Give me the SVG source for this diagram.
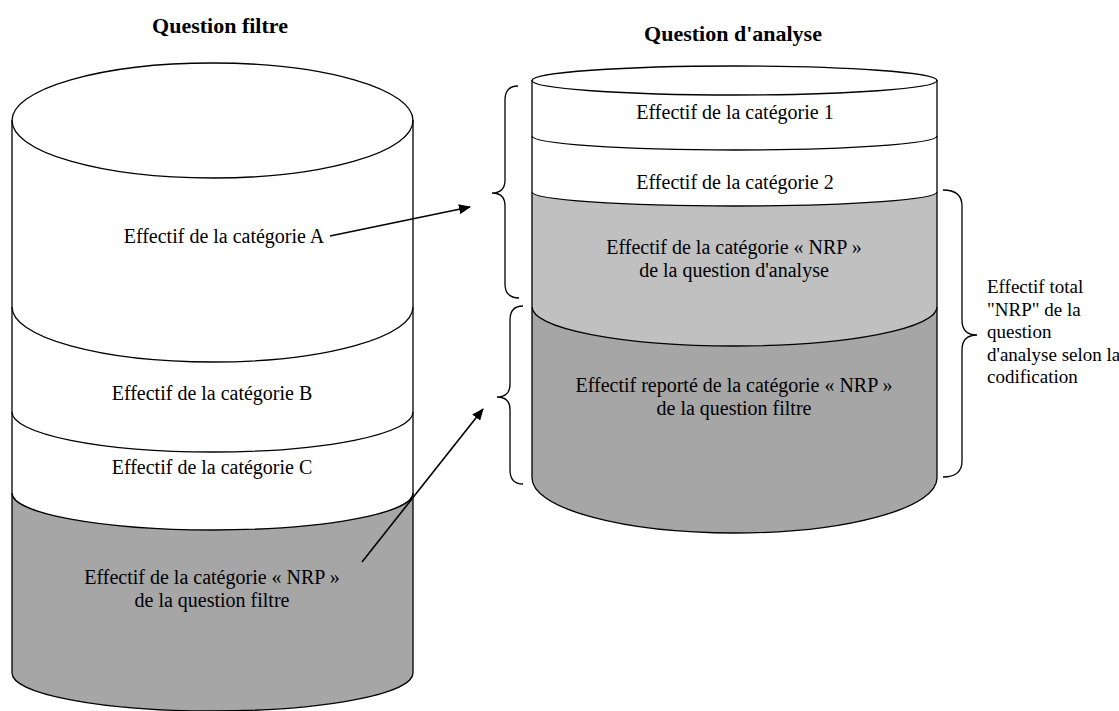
<svg xmlns="http://www.w3.org/2000/svg" width="1119" height="711" viewBox="0 0 1119 711">
  <defs>
    <style>
      .ln { fill: none; stroke: #000; stroke-width: 1.3; }
      .wh { fill: #fff; stroke: none; }
      .g1 { fill: #c0c0c0; stroke: none; }
      .g2 { fill: #a6a6a6; stroke: none; }
      .t { font-family: "Liberation Serif", "Times New Roman", serif; font-size: 20px; fill: #000; text-anchor: middle; }
      .tl { font-family: "Liberation Serif", "Times New Roman", serif; font-size: 19px; fill: #000; }
      .h { font-family: "Liberation Serif", "Times New Roman", serif; font-size: 22px; font-weight: bold; fill: #000; text-anchor: middle; }
      .ar { fill: none; stroke: #000; stroke-width: 1.6; }
    </style>
    <marker id="head" viewBox="0 0 12 10" refX="11" refY="5" markerWidth="12" markerHeight="10" markerUnits="userSpaceOnUse" orient="auto">
      <path d="M0,0 L12,5 L0,10 Z" fill="#000"/>
    </marker>
  </defs>

  <rect width="1119" height="711" fill="#fff"/>

  <!-- headings -->
  <text class="h" x="220" y="33">Question filtre</text>
  <text class="h" x="733" y="41">Question d'analyse</text>

  <!-- left cylinder: question filtre -->
  <g id="filtre">
    <g id="filtre-nrp">
      <path class="g2" d="M12,493 A200.5,37 0 0,0 413,493 L413,673 A200.5,38 0 0,1 12,673 Z"/>
      <path class="ln" d="M12,493 A200.5,37 0 0,0 413,493"/>
      <path class="ln" d="M12,673 A200.5,38 0 0,0 413,673"/>
      <text class="t" x="212" y="584">Effectif de la catégorie « NRP »</text>
      <text class="t" x="212" y="607">de la question filtre</text>
    </g>
    <g id="filtre-c">
      <path class="ln" d="M12,412 A200.5,40 0 0,0 413,412"/>
      <text class="t" x="212" y="474">Effectif de la catégorie C</text>
    </g>
    <g id="filtre-b">
      <path class="ln" d="M12,307 A200.5,55 0 0,0 413,307"/>
      <text class="t" x="212" y="400">Effectif de la catégorie B</text>
    </g>
    <g id="filtre-a">
      <ellipse class="ln" cx="212.5" cy="120.5" rx="200.5" ry="57.5"/>
      <text class="t" x="224" y="243">Effectif de la catégorie A</text>
    </g>
    <path class="ln" d="M12,120 L12,673 M413,120 L413,673"/>
  </g>

  <!-- right cylinder: question d'analyse -->
  <g id="analyse">
    <g id="analyse-report">
      <path class="g2" d="M532,307 A202.5,39 0 0,0 937,307 L937,478 A202.5,55 0 0,1 532,478 Z"/>
      <path class="ln" d="M532,478 A202.5,55 0 0,0 937,478"/>
      <text class="t" x="734" y="392">Effectif reporté de la catégorie « NRP »</text>
      <text class="t" x="734" y="415">de la question filtre</text>
    </g>
    <g id="analyse-nrp">
      <path class="g1" d="M532,192 A202.5,14 0 0,0 937,192 L937,307 A202.5,39 0 0,1 532,307 Z"/>
      <path class="ln" d="M532,307 A202.5,39 0 0,0 937,307"/>
      <text class="t" x="734" y="254">Effectif de la catégorie « NRP »</text>
      <text class="t" x="734" y="277">de la question d'analyse</text>
    </g>
    <g id="analyse-2">
      <path class="ln" d="M532,192 A202.5,14 0 0,0 937,192"/>
      <text class="t" x="735" y="189">Effectif de la catégorie 2</text>
    </g>
    <g id="analyse-1">
      <path class="ln" d="M532,136 A202.5,14 0 0,0 937,136"/>
      <ellipse class="ln" cx="734.5" cy="80.5" rx="202.5" ry="14.5"/>
      <text class="t" x="735" y="119">Effectif de la catégorie 1</text>
    </g>
    <path class="ln" d="M532,80 L532,478 M937,80 L937,478"/>
  </g>

  <!-- braces -->
  <g id="brace-categories">
    <path class="ln" d="M518,86 Q505,86 505,100 L505,180 Q505,193 492,193 Q505,193 505,206 L505,284 Q505,298 519,298"/>
  </g>
  <g id="brace-report">
    <path class="ln" d="M523,306 Q510,306 510,320 L510,384 Q510,397 497,397 Q510,397 510,410 L510,470 Q510,484 523,484"/>
  </g>
  <g id="brace-total">
    <path class="ln" d="M943,190 Q962,190 962,206 L962,320 Q962,335 977,335 Q962,335 962,350 L962,461 Q962,477 943,477"/>
    <text class="tl" x="987" y="293">Effectif total</text>
    <text class="tl" x="987" y="315.5">"NRP" de la</text>
    <text class="tl" x="987" y="338">question</text>
    <text class="tl" x="987" y="360.5">d'analyse selon la</text>
    <text class="tl" x="987" y="383">codification</text>
  </g>

  <!-- connectors -->
  <g id="connectors">
    <path class="ar" d="M330,236 L470,207" marker-end="url(#head)"/>
    <path class="ar" d="M362,562 L483,409" marker-end="url(#head)"/>
  </g>
</svg>
